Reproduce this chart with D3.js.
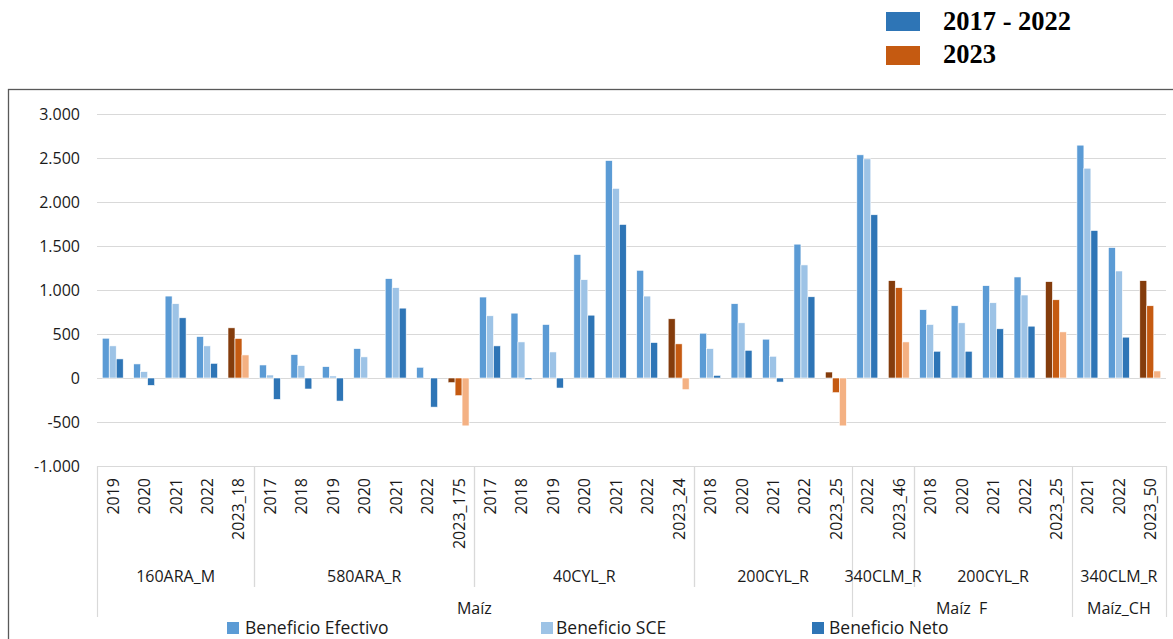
<!DOCTYPE html>
<html>
<head>
<meta charset="utf-8">
<script src="https://cdn.jsdelivr.net/npm/d3@7"></script>
<style>
  html, body { margin: 0; padding: 0; background: #fff; }
  svg { display: block; }
  text { font-family: "Open Sans", "Noto Sans", sans-serif; fill: #1a1a1a; }
</style>
</head>
<body>
<svg id="chart" width="1173" height="639"></svg>
<script>
// ---------------- DATA ----------------
const categories = [
  "2019","2020","2021","2022","2023_18",
  "2017","2018","2019","2020","2021","2022","2023_175",
  "2017","2018","2019","2020","2021","2022","2023_24",
  "2018","2020","2021","2022","2023_25",
  "2022","2023_46",
  "2018","2020","2021","2022","2023_25",
  "2021","2022","2023_50"
];
const varieties = ["160ARA_M","580ARA_R","40CYL_R","200CYL_R","340CLM_R","200CYL_R","340CLM_R"];
const varietySizes = [5, 7, 7, 5, 2, 5, 3];
const crops = ["Maíz", "Maíz  F", "Maíz_CH"];
const cropSizes = [24, 7, 3];

const seriesNames = ["Beneficio Efectivo", "Beneficio SCE", "Beneficio Neto"];
const beneficioEfectivo = [
  452, 160, 931, 471, 570,
  148, 266, 129, 334, 1129, 122, -53,
  920, 737, 608, 1403, 2471, 1224, 673,
  509, 844, 441, 1521, 68,
  2536, 1106,
  776, 821, 1049, 1148, 1095,
  2646, 1482, 1106
];
const beneficioSCE = [
  365, 72, 844, 365, 449,
  34, 141, 23, 240, 1026, 0, -201,
  707, 410, 296, 1117, 2155, 931, 388,
  334, 627, 247, 1285, -167,
  2490, 1026,
  608, 627, 855, 943, 889,
  2384, 1216, 821
];
const beneficioNeto = [
  217, -84, 684, 167, 262,
  -243, -125, -262, 0, 794, -331, -544,
  365, -19, -114, 714, 1745, 403, -133,
  30, 315, -46, 923, -544,
  1855, 410,
  304, 304, 559, 589, 524,
  1676, 464, 80
];
const yTicks = [-1000, -500, 0, 500, 1000, 1500, 2000, 2500, 3000];
const periodLabels = ["2017 - 2022", "2023"];

// ---------------- STYLE ----------------
const blueColors = ["#5B9BD5", "#9DC3E6", "#2E75B6"];
const orangeColors = ["#843C0C", "#C55A11", "#F4B183"];
const periodColors = ["#2E75B6", "#C55A11"];

const svg = d3.select("#chart");
const plot = { left: 97, right: 1166, top: 114, bottom: 466 };

// outer frame
svg.append("rect")
  .attr("x", 8.5).attr("y", 89.5)
  .attr("width", 1180).attr("height", 600)
  .attr("fill", "none").attr("stroke", "#595959").attr("stroke-width", 1.3);

const idx = d3.range(categories.length);
const x = d3.scaleBand().domain(idx).range([plot.left, plot.right]).padding(0);
const xs = d3.scaleBand().domain(d3.range(3)).range([0, x.bandwidth()]).paddingInner(0).paddingOuter(0.75);
const y = d3.scaleLinear().domain([-1000, 3000]).range([plot.bottom, plot.top]);

const loc = d3.formatLocale({ decimal: ",", thousands: ".", grouping: [3], currency: ["", ""], minus: "-" });
const fmt = loc.format(",.0f");

// grid lines
svg.append("g").selectAll("line").data(yTicks).join("line")
  .attr("x1", plot.left).attr("x2", plot.right)
  .attr("y1", d => Math.round(y(d)) + 0.5).attr("y2", d => Math.round(y(d)) + 0.5)
  .attr("stroke", "#d9d9d9").attr("stroke-width", 1.2);

// y axis labels via d3 axis
const yAxis = d3.axisLeft(y).tickValues(yTicks).tickFormat(fmt).tickSize(0).tickPadding(0);
const yg = svg.append("g").attr("transform", `translate(80,0)`).call(yAxis);
yg.select(".domain").remove();
yg.selectAll("text").style("font-size", "16px").style("font-family", '"Open Sans", sans-serif').attr("fill", "#1a1a1a");

// bars
const seriesVals = [beneficioEfectivo, beneficioSCE, beneficioNeto];
const barData = [];
idx.forEach(i => {
  const is2023 = categories[i].startsWith("2023");
  seriesVals.forEach((arr, s) => {
    barData.push({ i, s, v: arr[i], color: (is2023 ? orangeColors : blueColors)[s] });
  });
});
svg.append("g").selectAll("rect").data(barData.filter(d => d.v !== 0)).join("rect")
  .attr("x", d => x(d.i) + xs(d.s))
  .attr("width", xs.bandwidth())
  .attr("y", d => Math.min(y(d.v), y(0)))
  .attr("height", d => Math.abs(y(d.v) - y(0)))
  .attr("fill", d => d.color)
  .attr("stroke", "#ffffff").attr("stroke-width", 0.6);

// category axis lines
const axisG = svg.append("g");
const lineColor = "#d9d9d9";
axisG.append("line").attr("x1", plot.left).attr("x2", plot.right)
  .attr("y1", plot.bottom + 0.5).attr("y2", plot.bottom + 0.5)
  .attr("stroke", lineColor).attr("stroke-width", 1.2);

// level 1 labels
axisG.selectAll("text.cat").data(idx).join("text")
  .attr("class", "cat")
  .attr("transform", d => `translate(${x(d) + x.bandwidth() / 2 + 6},478) rotate(-90)`)
  .attr("text-anchor", "end")
  .style("font-size", "16px")
  .text(d => categories[d]);

// level 2 groups
let start = 0;
const varGroups = varieties.map((v, k) => {
  const g = { label: v, from: start, to: start + varietySizes[k] };
  start += varietySizes[k];
  return g;
});
start = 0;
const cropGroups = crops.map((c, k) => {
  const g = { label: c, from: start, to: start + cropSizes[k] };
  start += cropSizes[k];
  return g;
});
const edge = i => (i >= categories.length ? plot.right : x(i));
const cropEdges = new Set(cropGroups.map(g => g.from).concat(cropGroups.map(g => g.to)));

varGroups.forEach(g => {
  [g.from, g.to].forEach(b => {
    if (!cropEdges.has(b)) {
      axisG.append("line").attr("x1", Math.round(edge(b)) + 0.5).attr("x2", Math.round(edge(b)) + 0.5)
        .attr("y1", plot.bottom).attr("y2", 587)
        .attr("stroke", lineColor).attr("stroke-width", 1.2);
    }
  });
});
Array.from(cropEdges).forEach(b => {
  axisG.append("line").attr("x1", Math.round(edge(b)) + 0.5).attr("x2", Math.round(edge(b)) + 0.5)
    .attr("y1", plot.bottom).attr("y2", 617)
    .attr("stroke", lineColor).attr("stroke-width", 1.2);
});

axisG.selectAll("text.var").data(varGroups).join("text")
  .attr("class", "var")
  .attr("x", d => (edge(d.from) + edge(d.to)) / 2)
  .attr("y", 582)
  .attr("text-anchor", "middle")
  .style("font-size", "16px")
  .text(d => d.label);

axisG.selectAll("text.crop").data(cropGroups).join("text")
  .attr("class", "crop")
  .attr("x", d => (edge(d.from) + edge(d.to)) / 2)
  .attr("y", 614)
  .attr("text-anchor", "middle")
  .style("font-size", "16px")
  .style("white-space", "pre")
  .attr("xml:space", "preserve")
  .text(d => d.label);

// bottom legend
const legX = [[227, 245], [541, 556], [812, 829]];
const leg = svg.append("g");
seriesNames.forEach((name, s) => {
  leg.append("rect").attr("x", legX[s][0]).attr("y", 622).attr("width", 12).attr("height", 12)
    .attr("fill", blueColors[s]);
  leg.append("text").attr("x", legX[s][1]).attr("y", 634)
    .style("font-size", "17.5px").text(name);
});

// top legend (periods)
const periodLegend = svg.append("g");
periodLabels.forEach((p, k) => {
  periodLegend.append("rect").attr("x", 886).attr("y", 12 + k * 34).attr("width", 34).attr("height", 19)
    .attr("fill", periodColors[k]);
  periodLegend.append("text").attr("x", 943).attr("y", 30 + k * 33)
    .style("font-family", '"Liberation Serif", "Times New Roman", serif')
    .style("font-weight", "bold").style("font-size", "26.5px").style("fill", "#000")
    .text(p);
});
</script>
</body>
</html>
